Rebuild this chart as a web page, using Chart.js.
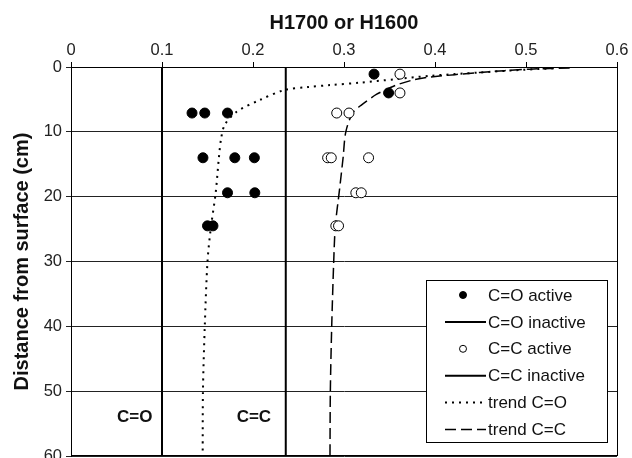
<!DOCTYPE html>
<html>
<head>
<meta charset="utf-8">
<style>
  html, body { margin: 0; padding: 0; background: #fff; }
  #wrap { width: 632px; height: 458px; }
</style>
<script src="https://cdn.jsdelivr.net/npm/chart.js@4/dist/chart.umd.min.js"></script>
</head>
<body>
<div id="wrap"><canvas id="c" width="632" height="458"></canvas></div>
<script>
// Depth profile of the carbonyl (H1700) and olefinic (H1600) indices.

// C=O index, active samples
const depthCO  = [1.1, 4.0, 7.1, 7.1, 7.1, 14, 14, 14, 19.4, 19.4, 24.5, 24.5];
const coActive = [0.333, 0.349, 0.133, 0.147, 0.172, 0.145, 0.180, 0.2015, 0.172, 0.202, 0.150, 0.156];

// C=C index, active samples
const depthCC  = [1.1, 4.0, 7.1, 7.1, 14, 14, 14, 19.4, 19.4, 24.5, 24.5];
const ccActive = [0.3615, 0.3615, 0.292, 0.3055, 0.282, 0.286, 0.327, 0.313, 0.319, 0.291, 0.294];

// inactive reference levels, drawn over the full depth range
const coInactive = 0.1;
const ccInactive = 0.236;
const inactiveDepth = [0, 60];

// fitted trends
const trendCODepth = [0.2, 0.43, 0.85, 1.36, 1.9, 2.42, 2.78, 3.1, 3.54, 5.05, 6.9, 8.9, 11, 14, 19.4, 25, 30, 40, 50, 60];
const trendCO      = [0.53, 0.497, 0.449, 0.3945, 0.355, 0.3176, 0.285, 0.26, 0.235, 0.208, 0.182, 0.169, 0.165, 0.1625, 0.159, 0.1535, 0.150, 0.147, 0.145, 0.1447];
const trendCCDepth = [0.17, 0.33, 0.85, 1.56, 2.0, 2.75, 3.2, 4.2, 5.83, 7.1, 10, 14, 19, 24.5, 30, 40, 50, 60];
const trendCC      = [0.548, 0.504, 0.449, 0.3945, 0.376, 0.358, 0.3505, 0.336, 0.3194, 0.3095, 0.302, 0.299, 0.295, 0.2905, 0.2887, 0.2865, 0.285, 0.2846];

// axis ticks
const xTicks = [0, 0.1, 0.2, 0.3, 0.4, 0.5, 0.6];
const yTicks = [0, 10, 20, 30, 40, 50, 60];

// region captions inside the plot
const regionLabels = ['C=O', 'C=C'];
const regionLabelX = [0.07, 0.201];
const regionLabelDepth = 54.1;

const FONT = '"Liberation Sans", Arial, Helvetica, sans-serif';

const pts = (xs, ys) => xs.map((x, i) => ({ x, y: ys[i] }));
const vline = (x) => inactiveDepth.map(d => ({ x, y: d }));

const frameAndLabels = {
  id: 'frameAndLabels',
  afterDatasetsDraw(chart) {
    const { ctx, chartArea: a, scales } = chart;
    ctx.save();
    // plot frame
    ctx.strokeStyle = '#000';
    ctx.lineWidth = 1;
    ctx.beginPath();
    ctx.moveTo(Math.round(a.right) + 0.5, a.top);
    ctx.lineTo(Math.round(a.right) + 0.5, a.bottom);
    ctx.moveTo(a.left, Math.round(a.bottom) - 0.5);
    ctx.lineTo(a.right, Math.round(a.bottom) - 0.5);
    ctx.stroke();
    // region captions
    ctx.fillStyle = '#111';
    ctx.font = 'bold 17px ' + FONT;
    ctx.textAlign = 'center';
    ctx.textBaseline = 'middle';
    regionLabels.forEach((t, i) => {
      ctx.fillText(t, scales.x.getPixelForValue(regionLabelX[i]), scales.y.getPixelForValue(regionLabelDepth));
    });
    ctx.restore();
  }
};

const boxLegend = {
  id: 'boxLegend',
  afterDraw(chart) {
    const { ctx, chartArea: a } = chart;
    const w = 181, h = 162;
    const left = Math.round(a.right - 10 - w), top = Math.round(a.bottom - 14 - h);
    ctx.save();
    ctx.fillStyle = '#fff';
    ctx.fillRect(left, top, w, h);
    ctx.strokeStyle = '#000';
    ctx.lineWidth = 1;
    ctx.strokeRect(left + 0.5, top + 0.5, w, h);
    ctx.font = '17px ' + FONT;
    ctx.textBaseline = 'middle';
    ctx.textAlign = 'left';
    chart.data.datasets.forEach((ds, i) => {
      const y = top + 15 + i * 26.9;
      if (ds.showLine) {
        ctx.beginPath();
        ctx.setLineDash(ds.borderDash || []);
        ctx.lineWidth = ds.borderWidth;
        ctx.strokeStyle = ds.borderColor;
        ctx.moveTo(left + 19, y);
        ctx.lineTo(left + 60, y);
        ctx.stroke();
        ctx.setLineDash([]);
      } else {
        ctx.beginPath();
        ctx.arc(left + 37, y, 3.5, 0, Math.PI * 2);
        ctx.fillStyle = ds.pointBackgroundColor;
        ctx.fill();
        ctx.lineWidth = 1;
        ctx.strokeStyle = ds.pointBorderColor;
        ctx.stroke();
      }
      ctx.fillStyle = '#111';
      ctx.fillText(ds.label, left + 62, y + 1);
    });
    ctx.restore();
  }
};

new Chart(document.getElementById('c'), {
  type: 'scatter',
  data: {
    datasets: [
      { label: 'C=O active', data: pts(coActive, depthCO), showLine: false,
        pointRadius: 5, pointBackgroundColor: '#000', pointBorderColor: '#000', pointBorderWidth: 1, order: 0 },
      { label: 'C=O inactive', data: vline(coInactive), showLine: true, pointRadius: 0,
        borderColor: '#000', borderWidth: 2, order: 3 },
      { label: 'C=C active', data: pts(ccActive, depthCC), showLine: false,
        pointRadius: 5, pointBackgroundColor: '#fff', pointBorderColor: '#000', pointBorderWidth: 1, order: 1 },
      { label: 'C=C inactive', data: vline(ccInactive), showLine: true, pointRadius: 0,
        borderColor: '#000', borderWidth: 2, order: 3 },
      { label: 'trend C=O', data: pts(trendCO, trendCODepth), showLine: true, pointRadius: 0,
        borderColor: '#000', borderWidth: 2, borderDash: [2, 5], tension: 0.3, order: 2 },
      { label: 'trend C=C', data: pts(trendCC, trendCCDepth), showLine: true, pointRadius: 0,
        borderColor: '#000', borderWidth: 1.5, borderDash: [11, 5], tension: 0.3, order: 2 }
    ]
  },
  options: {
    responsive: false,
    animation: false,
    devicePixelRatio: 1,
    layout: { autoPadding: false, padding: { left: 0, top: 0, right: 15, bottom: 2 } },
    plugins: { legend: { display: false }, tooltip: { enabled: false } },
    scales: {
      x: {
        type: 'linear', position: 'top', min: 0, max: 0.6,
        afterBuildTicks: (s) => { s.ticks = xTicks.map(v => ({ value: v })); },
        afterFit: (s) => { s.height = 67; s.paddingLeft = 0; s.paddingRight = 0; },
        ticks: { color: '#222', font: { family: FONT, size: 16.5 }, padding: 2,
                 maxRotation: 0, callback: (v) => String(v) },
        grid: { drawOnChartArea: false, drawTicks: true, tickLength: 5, color: '#000' },
        border: { display: true, color: '#000', width: 1 },
        title: { display: true, text: 'H1700 or H1600', color: '#111',
                 font: { family: FONT, size: 20, weight: 'bold' }, padding: { top: 11, bottom: 0 } }
      },
      y: {
        type: 'linear', reverse: true, min: 0, max: 60,
        afterBuildTicks: (s) => { s.ticks = yTicks.map(v => ({ value: v })); },
        afterFit: (s) => { s.width = 71; s.paddingTop = 0; s.paddingBottom = 0; },
        ticks: { color: '#222', font: { family: FONT, size: 16.5 }, padding: 4,
                 callback: (v) => String(v) },
        grid: { color: '#222', lineWidth: 1, drawTicks: true, tickLength: 5 },
        border: { display: true, color: '#000', width: 1 },
        title: { display: true, text: 'Distance from surface (cm)', color: '#111',
                 font: { family: FONT, size: 20, weight: 'bold' }, padding: { top: 10, bottom: 0 } }
      }
    }
  },
  plugins: [frameAndLabels, boxLegend]
});
</script>
</body>
</html>
